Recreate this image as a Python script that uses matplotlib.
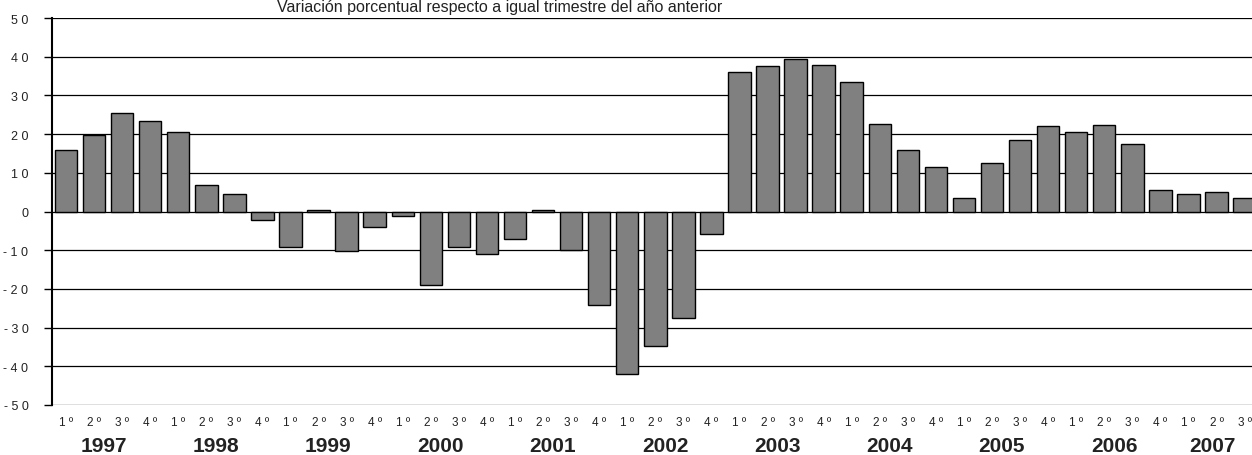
import matplotlib
matplotlib.use("Agg")
import matplotlib.pyplot as plt
from matplotlib.transforms import blended_transform_factory

plt.rcParams['font.family'] = ['Liberation Sans', 'DejaVu Sans']

years = ['1997', '1998', '1999', '2000', '2001', '2002', '2003', '2004', '2005', '2006', '2007']
quarters = ['1º', '2º', '3º', '4º']
values = [15.8, 19.7, 25.5, 23.5,
          20.5, 6.8, 4.5, -2.3,
          -9.3, 0.3, -10.3, -4.1,
          -1.2, -19.1, -9.3, -10.9,
          -7.0, 0.5, -10.0, -24.1,
          -42.0, -34.7, -27.5, -5.7,
          36.1, 37.6, 39.3, 37.8,
          33.4, 22.5, 15.8, 11.5,
          3.5, 12.5, 18.6, 22.2,
          20.5, 22.4, 17.4, 5.5,
          4.6, 5.1, 3.4]
title = 'Variación porcentual respecto a igual trimestre del año anterior'
yticks = list(range(-50, 51, 10))

W, H = 1252, 456
fig = plt.figure(figsize=(W / 100, H / 100), dpi=100)
ax = fig.add_axes([52 / W, 1 - 406 / H, (1258.6 - 52) / W, 387 / H])

x = list(range(len(values)))
ax.bar(x, values, width=0.8, color='#808080', edgecolor='black', linewidth=1.0, zorder=3)

ax.set_xlim(-0.5, len(values) - 0.5)
ax.set_ylim(-50, 50)
ax.set_yticks(yticks)
ax.set_yticklabels([' '.join(str(v)) for v in yticks], fontsize=9, color='#222222')
for v in yticks:
    ax.axhline(v, color='black', linewidth=0.9, zorder=1)

qlabels = [' '.join(quarters[i % 4]) for i in range(len(values))]
ax.set_xticks(x)
ax.set_xticklabels(qlabels, fontsize=8.5, color='#222222')
ax.tick_params(axis='x', length=0, pad=8)
ax.tick_params(axis='y', length=6, width=1, direction='out', pad=11)

for s in ['top', 'right', 'bottom']:
    ax.spines[s].set_visible(False)
ax.spines['left'].set_linewidth(1.5)

trans = blended_transform_factory(ax.transData, fig.transFigure)
for k, yr in enumerate(years):
    n = min(4, len(values) - 4 * k)
    xc = 4 * k + (n - 1) / 2 - 0.15
    ax.text(xc, 0.0, yr, transform=trans, ha='center', va='bottom',
            fontsize=15, fontweight='bold', color='#222222')

fig.text(500 / W, 0.999, title, ha='center', va='top', fontsize=11.5, color='#222222')

fig.savefig('out.png', dpi=100)
